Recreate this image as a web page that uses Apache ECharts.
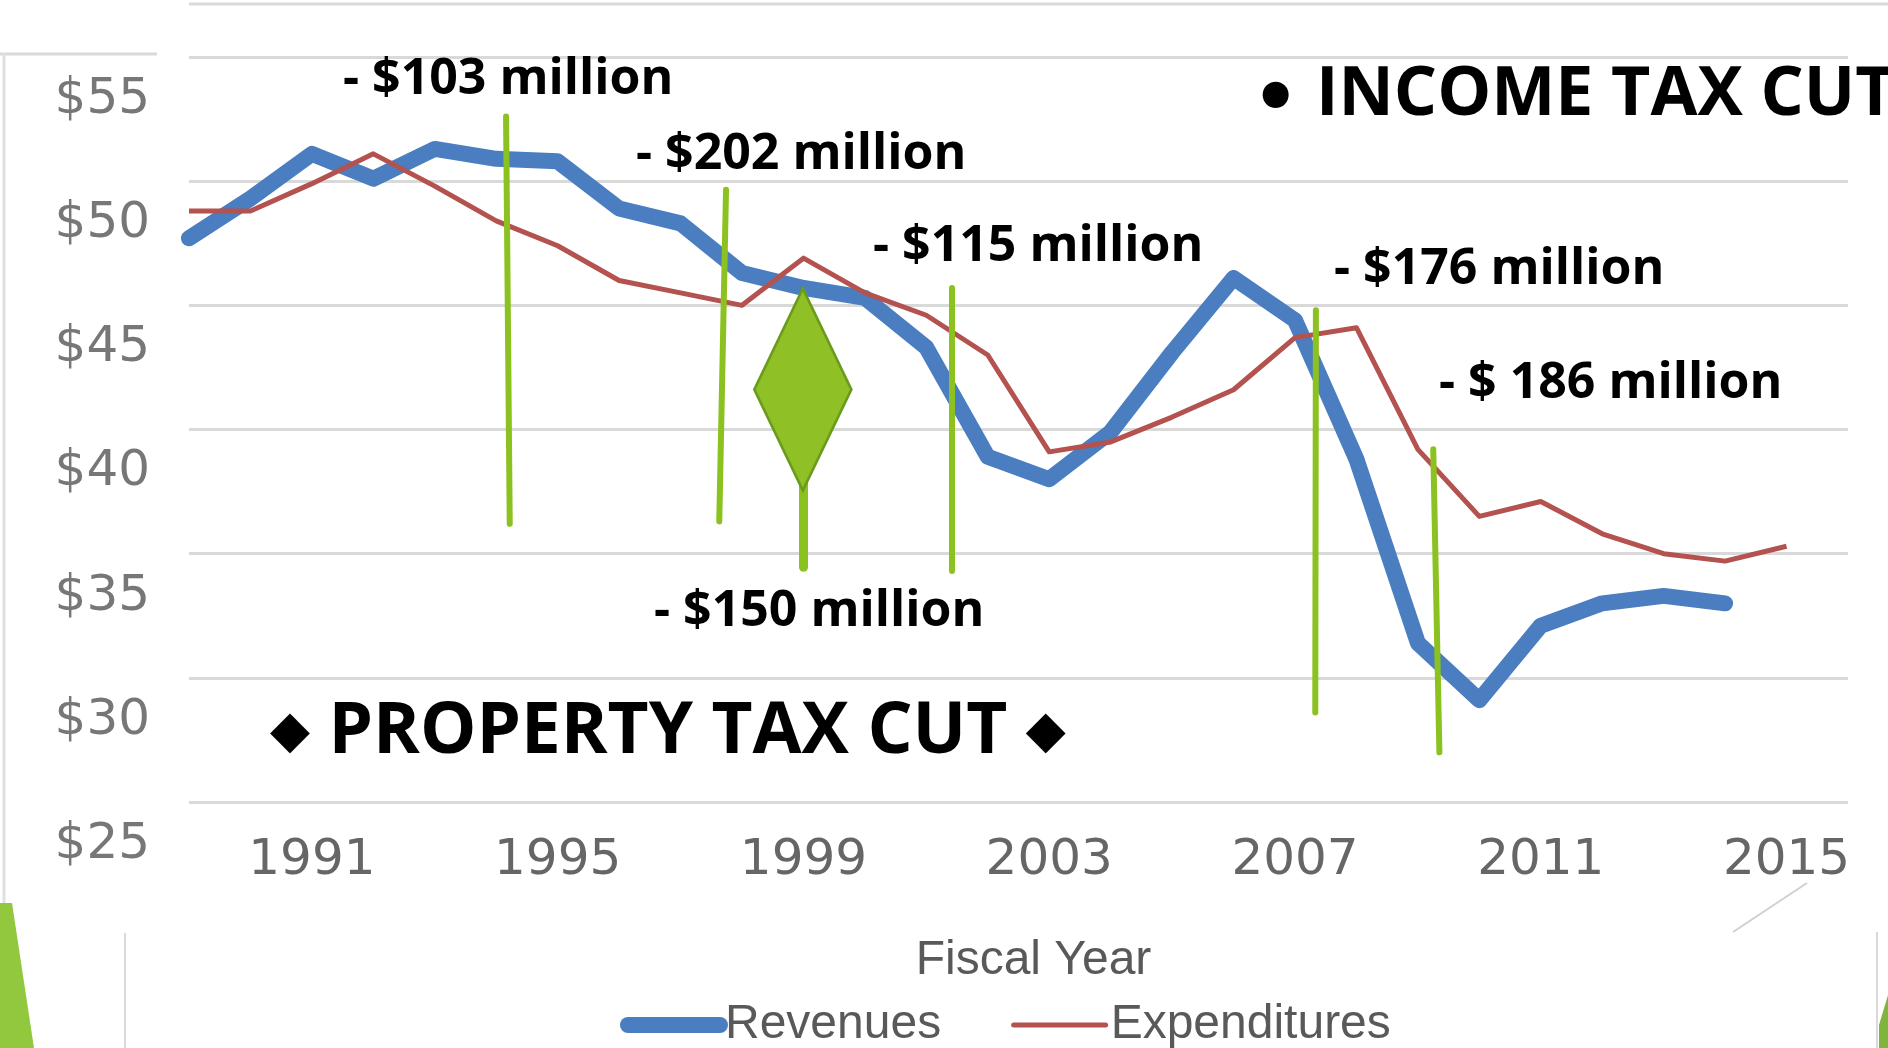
<!DOCTYPE html>
<html>
<head>
<meta charset="utf-8">
<title>Revenues vs Expenditures</title>
<script src="https://cdn.jsdelivr.net/npm/echarts@6/dist/echarts.min.js"></script>
<style>
  html, body { margin: 0; padding: 0; background: #fff; }
  #chart { width: 1888px; height: 1048px; }
</style>
</head>
<body>
<div id="chart"></div>
<script>
  // values
  var years = [1989, 1990, 1991, 1992, 1993, 1994, 1995, 1996, 1997, 1998, 1999, 2000, 2001, 2002,
               2003, 2004, 2005, 2006, 2007, 2008, 2009, 2010, 2011, 2012, 2013, 2014, 2015];
  var revenues = [47.7, 49.3, 51.1, 50.1, 51.3, 50.9, 50.8, 48.9, 48.3, 46.3, 45.7, 45.3, 43.3, 38.9,
                  38.0, 39.9, 43.1, 46.1, 44.4, 38.8, 31.4, 29.1, 32.1, 33.0, 33.3, 33.0];
  var expenditures = [48.8, 48.8, 49.9, 51.1, 49.8, 48.4, 47.4, 46.0, 45.5, 45.0, 46.9, 45.5, 44.6, 43.0,
                      39.1, 39.5, 40.5, 41.6, 43.7, 44.1, 39.2, 36.5, 37.1, 35.8, 35.0, 34.7, 35.3];
  var yearTicks = [1991, 1995, 1999, 2003, 2007, 2011, 2015];

  // hand drawn green markers on the slide, in [year, $] coordinates
  var cutLines = [
    [[1994.16, 52.6], [1994.22, 36.2]],
    [[1997.74, 49.65], [1997.63, 36.3]],
    [[2001.42, 45.7], [2001.42, 34.3]],
    [[2007.34, 44.8], [2007.33, 28.6]],
    [[2009.25, 39.2], [2009.35, 27.0]]
  ];
  var stemLine = [[1998.99, 37.9], [1998.99, 34.45]];
  var diamondAt = [1998.99, 41.61];

  var green = '#8cc21f';

  function pairs(vals) {
    var out = [];
    for (var i = 0; i < vals.length; i++) out.push([years[i], vals[i]]);
    return out;
  }

  var markLines = cutLines.map(function (l) {
    return [{ coord: l[0] }, { coord: l[1] }];
  });
  markLines.push([
    { coord: stemLine[0], lineStyle: { width: 9 } },
    { coord: stemLine[1], lineStyle: { width: 9 } }
  ]);

  var boldFont = '"Open Sans", "DejaVu Sans", sans-serif';
  function cutText(txt, x, y) {
    return {
      type: 'text', x: x, y: y, z: 100,
      style: { text: txt, fill: '#000', fontFamily: boldFont, fontWeight: 'bold', fontSize: 50, verticalAlign: 'middle' }
    };
  }

  var myChart = echarts.init(document.getElementById('chart'));
  myChart.setOption({
    animation: false,
    backgroundColor: '#fff',
    grid: { left: 189, right: 40, top: 57, bottom: 246 },
    xAxis: {
      type: 'value',
      min: 1989,
      max: 2016,
      interval: 1,
      name: 'Fiscal Year',
      nameLocation: 'middle',
      nameGap: 135,
      nameTextStyle: { fontFamily: 'Liberation Sans', fontSize: 48, color: '#595959', padding: [0, 0, 0, 30] },
      axisLine: { show: false },
      axisTick: { show: false },
      splitLine: { show: false },
      axisLabel: {
        formatter: function (v) { return yearTicks.indexOf(v) >= 0 ? String(v) : ''; },
        fontFamily: 'DejaVu Sans',
        fontSize: 50,
        color: '#666',
        margin: 34
      }
    },
    yAxis: {
      type: 'value',
      min: 25,
      max: 55,
      interval: 5,
      axisLine: { show: false },
      axisTick: { show: false },
      splitLine: { lineStyle: { color: '#d9d9d9', width: 3 } },
      axisLabel: {
        formatter: function (v) { return '$' + v; },
        fontFamily: 'DejaVu Sans',
        fontSize: 50,
        color: '#777',
        margin: 39,
        verticalAlign: 'top',
        padding: [18, 0, 0, 0]
      }
    },
    legend: {
      left: 615,
      top: 996,
      itemWidth: 92,
      itemHeight: 14,
      itemGap: 70,
      data: ['Revenues', 'Expenditures'],
      itemStyle: { opacity: 0 },
      lineStyle: { width: 'inherit', cap: 'round' },
      textStyle: { fontFamily: 'Liberation Sans', fontSize: 48, color: '#595959' }
    },
    series: [
      {
        name: 'Revenues',
        type: 'line',
        data: pairs(revenues),
        symbol: 'none',
        color: '#4a7ec0',
        lineStyle: { width: 16, color: '#4a7ec0', join: 'round', cap: 'round' },
        z: 3
      },
      {
        name: 'Expenditures',
        type: 'line',
        data: pairs(expenditures),
        symbol: 'none',
        color: '#b3524f',
        lineStyle: { width: 5, color: '#b3524f', join: 'round' },
        z: 4,
        markLine: {
          silent: true,
          symbol: ['none', 'none'],
          label: { show: false },
          lineStyle: { color: green, width: 6, type: 'solid', cap: 'round' },
          data: markLines
        },
        markPoint: {
          silent: true,
          label: { show: false },
          itemStyle: { color: '#8fc127', borderColor: '#6b9b1c', borderWidth: 3 },
          data: [{ coord: diamondAt, symbol: 'diamond', symbolSize: [97, 202] }]
        }
      }
    ],
    graphic: [
      // slide frame bits
      { type: 'line', shape: { x1: 189, y1: 4, x2: 1888, y2: 4 }, style: { stroke: '#d9d9d9', lineWidth: 3 } },
      { type: 'line', shape: { x1: 0, y1: 54, x2: 157, y2: 54 }, style: { stroke: '#d9d9d9', lineWidth: 3 } },
      { type: 'line', shape: { x1: 4, y1: 54, x2: 4, y2: 903 }, style: { stroke: '#e0e0e0', lineWidth: 3 } },
      { type: 'line', shape: { x1: 125, y1: 933, x2: 125, y2: 1048 }, style: { stroke: '#d9d9d9', lineWidth: 2 } },
      { type: 'line', shape: { x1: 1877, y1: 932, x2: 1877, y2: 1048 }, style: { stroke: '#d9d9d9', lineWidth: 2 } },
      { type: 'line', shape: { x1: 1807, y1: 883, x2: 1733, y2: 932 }, style: { stroke: '#d0d0d0', lineWidth: 2 } },
      { type: 'polygon', shape: { points: [[0, 903], [12, 903], [34, 1048], [0, 1048]] }, style: { fill: '#92c83e' } },
      { type: 'polygon', shape: { points: [[1888, 995], [1879, 1025], [1879, 1048], [1888, 1048]] }, style: { fill: '#7fb53a' } },
      // annotations
      cutText('- $103 million', 343, 80),
      cutText('- $202 million', 636, 155),
      cutText('- $115 million', 873, 247),
      cutText('- $176 million', 1334, 270),
      cutText('- $ 186 million', 1439, 384),
      cutText('- $150 million', 654, 612),
      {
        type: 'text', x: 1252, y: 104, z: 100,
        style: { text: '\u2022', fill: '#000', fontFamily: 'DejaVu Sans', fontWeight: 'bold', fontSize: 74, verticalAlign: 'middle' }
      },
      {
        type: 'text', x: 1316, y: 96, z: 100,
        style: { text: 'INCOME TAX CUT', fill: '#000', fontFamily: boldFont, fontWeight: 'bold', fontSize: 68, verticalAlign: 'middle' }
      },
      {
        type: 'text', x: 270, y: 733, z: 100,
        style: {
          text: '{d|\u25c6} PROPERTY TAX CUT {d|\u25c6}',
          fill: '#000', fontFamily: boldFont, fontWeight: 'bold', fontSize: 71, verticalAlign: 'middle',
          rich: { d: { fontFamily: 'DejaVu Sans', fontSize: 52, fill: '#000', verticalAlign: 'middle' } }
        }
      }
    ]
  });
  window.onresize = myChart.resize;
</script>
</body>
</html>
